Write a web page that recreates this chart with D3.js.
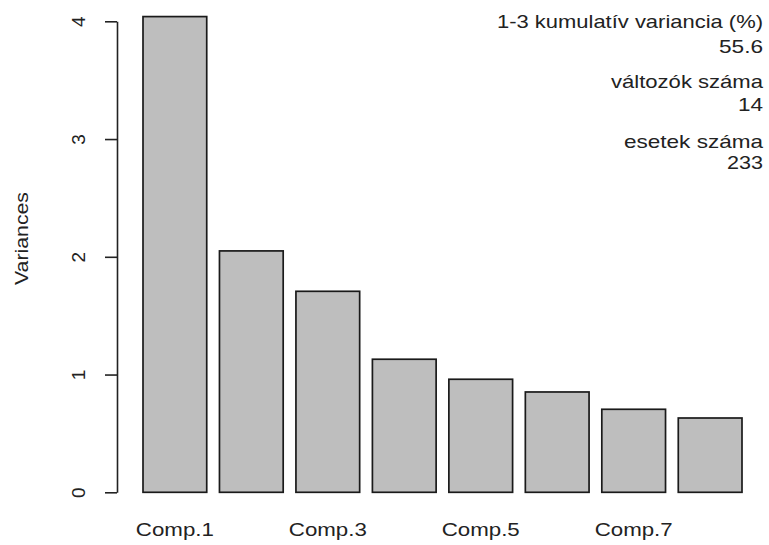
<!DOCTYPE html>
<html lang="hu">
<head>
  <meta charset="UTF-8" />
  <title>Variances</title>
  <style>
    body {
      margin: 0;
      background: #fff;
    }
    svg text {
      font-family: Arial, "Liberation Sans", sans-serif;
      font-size: 19px;
      fill: #222;
    }
  </style>
</head>
<body>
  <div id="chart"></div>

  <script src="https://d3js.org/d3.v7.min.js"></script>
  <script>
    // Data
    const components = ["Comp.1", "Comp.2", "Comp.3", "Comp.4", "Comp.5", "Comp.6", "Comp.7", "Comp.8"];
    const variances = [4.04, 2.05, 1.707, 1.13, 0.96, 0.852, 0.705, 0.631];
    const shownLabels = ["Comp.1", "Comp.3", "Comp.5", "Comp.7"];
    const yTicks = [0, 1, 2, 3, 4];
    const noteLines = ["1-3 kumulatív variancia (%)", "55.6", "változók száma", "14", "esetek száma", "233"];

    const width = 769, height = 545;

    const svg = d3.select("#chart")
      .append("svg")
      .attr("width", width)
      .attr("height", height);

    const x = d3.scaleBand()
      .domain(components)
      .range([143, 742])
      .paddingInner(1 / 6)
      .paddingOuter(0);

    const y = d3.scaleLinear()
      .domain([0, 4])
      .range([492.3, 21.3]);

    // Y axis
    const yAxis = svg.append("g")
      .attr("transform", "translate(117,0)")
      .call(d3.axisLeft(y).tickValues(yTicks).tickSize(12).tickSizeOuter(0).tickFormat(d3.format("d")));

    yAxis.select(".domain").attr("stroke", "#222").attr("stroke-width", 1.6);
    yAxis.selectAll(".tick line").attr("stroke", "#222").attr("stroke-width", 1.6);
    yAxis.selectAll(".tick text")
      .attr("x", null)
      .attr("dy", null)
      .attr("text-anchor", "middle")
      .attr("transform", "translate(-32,0) rotate(-90)")
      .style("font-family", "Arial, 'Liberation Sans', sans-serif")
      .style("font-size", "19px")
      .attr("fill", "#222");

    // Y axis title
    svg.append("text")
      .attr("transform", "translate(28,238.5) rotate(-90)")
      .attr("text-anchor", "middle")
      .attr("textLength", 93)
      .attr("lengthAdjust", "spacingAndGlyphs")
      .text("Variances");

    // Bars
    svg.selectAll("rect.bar")
      .data(variances)
      .enter()
      .append("rect")
      .attr("class", "bar")
      .attr("x", (d, i) => x(components[i]))
      .attr("y", d => y(d))
      .attr("width", x.bandwidth())
      .attr("height", d => y(0) - y(d))
      .attr("fill", "#bebebe")
      .attr("stroke", "#1a1a1a")
      .attr("stroke-width", 1.7);

    // X labels (every other one, as R drops overlapping names)
    svg.selectAll("text.xlab")
      .data(shownLabels)
      .enter()
      .append("text")
      .attr("class", "xlab")
      .attr("x", d => x(d) + x.bandwidth() / 2)
      .attr("y", 536)
      .attr("text-anchor", "middle")
      .attr("textLength", 78)
      .attr("lengthAdjust", "spacingAndGlyphs")
      .text(d => d);

    // Notes in the top right corner
    const noteBaselines = [28, 53, 88, 111, 148, 169];
    const noteWidths = [266, 44, 152, 25, 139, 36];
    svg.selectAll("text.note")
      .data(noteLines)
      .enter()
      .append("text")
      .attr("class", "note")
      .attr("x", 763)
      .attr("y", (d, i) => noteBaselines[i])
      .attr("text-anchor", "end")
      .attr("textLength", (d, i) => noteWidths[i])
      .attr("lengthAdjust", "spacingAndGlyphs")
      .text(d => d);
  </script>
</body>
</html>
